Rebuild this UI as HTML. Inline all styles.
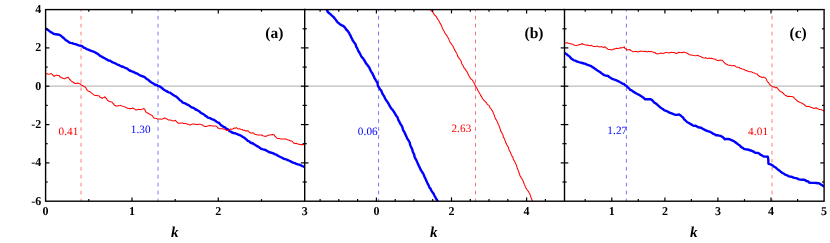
<!DOCTYPE html>
<html><head><meta charset="utf-8">
<style>
html,body{margin:0;padding:0;background:#fff;}
body{width:830px;height:243px;overflow:hidden;font-family:"Liberation Serif",serif;}
svg{display:block;position:absolute;left:0;top:0;}
svg.ov{will-change:transform;}
text{font-family:"Liberation Serif",serif;text-rendering:geometricPrecision;}
.tl{font-weight:bold;font-size:12px;fill:#000;}
.kl{font-weight:bold;font-style:italic;font-size:15px;fill:#000;}
.pl{font-weight:bold;font-size:15.5px;fill:#000;}
.an{font-size:11.2px;letter-spacing:0.1px;}
</style></head><body>
<svg width="830" height="243" viewBox="0 0 830 243">
<rect width="830" height="243" fill="#fff"/>
<defs>
<clipPath id="ca"><rect x="45.6" y="9.6" width="259.1" height="191.6"/></clipPath>
<clipPath id="cb"><rect x="304.7" y="9.6" width="259.8" height="191.6"/></clipPath>
<clipPath id="cc"><rect x="564.5" y="9.6" width="259.6" height="191.6"/></clipPath>
</defs>

<line x1="45.6" y1="86.2" x2="824.1" y2="86.2" stroke="#bdbdbd" stroke-width="1.2"/>
<line x1="81.00" y1="9.6" x2="81.00" y2="201.2" stroke="#ff0000" stroke-opacity="0.52" stroke-width="1" stroke-dasharray="3.7,4.25" stroke-dashoffset="1.75"/>
<line x1="158.00" y1="9.6" x2="158.00" y2="201.2" stroke="#0000ff" stroke-opacity="0.52" stroke-width="1" stroke-dasharray="3.7,4.25" stroke-dashoffset="1.75"/>
<line x1="378.60" y1="9.6" x2="378.60" y2="201.2" stroke="#0000ff" stroke-opacity="0.55" stroke-width="1" stroke-dasharray="3.7,4.25" stroke-dashoffset="1.75"/>
<line x1="475.50" y1="9.6" x2="475.50" y2="201.2" stroke="#ff0000" stroke-opacity="0.55" stroke-width="1" stroke-dasharray="3.7,4.25" stroke-dashoffset="1.75"/>
<line x1="626.40" y1="9.6" x2="626.40" y2="201.2" stroke="#0000ff" stroke-opacity="0.55" stroke-width="1" stroke-dasharray="3.7,4.25" stroke-dashoffset="1.75"/>
<line x1="772.00" y1="9.6" x2="772.00" y2="201.2" stroke="#ff0000" stroke-opacity="0.52" stroke-width="1" stroke-dasharray="3.7,4.25" stroke-dashoffset="1.75"/>
<g fill="none" stroke-linejoin="round" stroke-linecap="butt">
<g clip-path="url(#ca)"><path d="M45.8,28.4 46.8,29.3 48.0,30.1 49.1,30.8 50.3,31.8 51.7,32.6 53.0,33.4 54.4,34.1 56.0,34.3 57.5,34.5 59.2,34.7 60.5,35.4 61.6,36.4 62.7,37.3 63.9,38.2 64.9,39.3 66.1,40.3 67.3,41.1 68.7,42.1 70.4,42.8 72.2,43.2 73.9,43.9 75.3,44.2 76.7,44.5 78.0,45.2 79.4,45.6 80.8,45.7 82.4,46.4 83.7,47.6 85.3,48.2 86.8,49.1 88.3,49.7 89.8,50.3 91.3,50.9 92.8,51.3 94.4,52.0 96.0,52.9 97.5,53.7 98.9,54.7 99.9,55.8 101.3,56.3 102.5,57.2 103.8,57.8 105.1,58.5 106.3,59.2 107.5,59.9 108.8,60.6 110.2,60.8 111.7,61.9 113.4,62.6 115.1,63.2 116.3,64.0 117.6,64.6 118.9,65.0 120.1,65.8 121.5,66.5 123.1,66.8 124.5,67.5 125.9,68.1 127.3,68.6 128.4,69.7 129.6,70.5 131.0,71.0 132.6,71.7 134.3,72.4 135.9,73.3 137.4,73.6 138.6,74.5 139.9,75.3 141.5,75.9 143.2,76.5 144.6,77.1 145.8,78.2 147.2,79.2 148.6,80.1 149.8,81.3 151.1,82.3 152.4,83.0 153.8,83.8 155.1,84.7 156.8,85.0 158.0,86.0 159.8,86.4 161.2,87.4 162.5,88.5 163.8,89.7 165.4,90.5 166.9,91.4 168.4,92.3 170.2,92.7 171.5,93.8 173.0,94.8 174.5,95.7 176.1,96.5 177.4,97.6 178.7,98.8 179.9,100.2 181.4,101.0 182.6,102.5 184.2,103.1 185.8,103.7 187.3,104.6 189.0,105.3 190.3,106.4 191.8,107.4 193.2,107.8 194.5,108.6 195.6,109.5 197.0,110.0 198.2,110.8 199.5,111.5 200.5,112.6 201.8,113.4 203.1,114.0 204.4,114.7 205.3,115.8 206.7,116.4 207.7,117.6 209.4,117.9 210.9,118.6 212.5,119.3 214.1,119.9 215.3,120.7 216.4,121.7 217.6,122.3 219.0,122.9 220.0,124.0 221.0,125.2 222.3,125.9 223.5,126.9 225.0,127.4 226.0,128.5 227.4,129.1 228.6,129.9 229.5,131.2 230.9,131.7 232.0,132.5 233.6,133.0 235.2,133.3 236.7,133.8 238.2,134.6 239.5,135.0 240.9,135.6 242.1,136.4 243.3,137.2 244.6,137.9 245.6,139.0 246.8,139.8 247.8,140.9 249.2,141.4 250.2,142.5 251.6,143.0 253.0,143.5 254.2,144.3 255.7,145.2 257.1,146.2 258.6,146.9 260.0,148.0 261.4,148.9 263.0,149.4 264.6,149.7 266.1,150.4 267.5,151.2 268.9,152.0 270.5,152.5 272.0,152.9 273.4,153.4 274.6,154.1 276.0,154.4 277.4,155.4 278.9,156.2 280.4,157.0 282.0,157.7 283.5,158.6 285.1,159.2 286.8,159.6 288.4,160.4 290.0,161.0 291.5,161.9 293.1,162.6 294.8,163.1 296.4,163.8 298.0,164.4 299.5,164.7 300.8,165.3 302.2,166.0 303.6,166.6 305.0,167.0" stroke="#0000ff" stroke-width="2.4"/><path d="M45.6,73.6 47.0,73.8 48.3,74.2 49.6,74.0 51.3,73.6 52.2,74.4 53.1,75.3 54.0,76.3 55.2,75.7 56.4,75.1 57.7,75.4 59.0,75.4 59.7,76.5 60.6,77.3 61.7,77.7 63.0,78.2 64.4,78.9 65.6,78.3 66.8,77.8 68.2,77.3 68.9,78.2 69.5,79.2 70.4,80.0 71.1,80.9 72.3,81.7 73.6,82.5 74.9,83.5 76.3,83.6 77.7,83.0 79.0,83.4 80.3,83.9 81.2,84.9 82.4,85.4 83.5,86.3 84.8,86.9 86.0,87.9 86.5,89.6 87.6,90.3 88.5,91.3 90.0,91.7 91.0,92.6 91.9,93.4 92.9,94.1 93.9,94.9 95.0,95.6 96.4,95.4 97.7,95.8 99.1,95.8 99.8,97.0 100.9,97.5 102.1,98.3 103.1,97.8 104.2,97.5 104.9,96.7 105.7,98.0 106.8,99.0 107.7,100.6 109.0,101.2 110.4,101.8 111.9,102.1 112.8,103.1 113.7,104.1 114.4,105.3 116.1,106.1 117.3,106.0 118.6,105.8 119.8,105.6 120.8,105.4 121.8,105.9 123.0,106.3 124.1,106.6 125.1,107.1 126.3,107.6 127.6,108.3 129.1,108.6 130.5,108.6 131.8,108.4 132.6,108.1 133.7,108.5 134.7,109.1 136.0,110.1 137.3,109.7 138.7,109.3 140.2,109.8 141.5,109.3 142.9,109.1 143.3,108.6 144.8,109.3 145.3,110.9 146.3,112.5 147.8,113.0 148.9,113.7 150.0,114.4 151.2,114.9 152.1,115.7 153.0,116.7 153.9,117.9 155.1,118.3 156.4,118.4 157.6,119.1 159.0,118.9 160.2,119.1 161.4,119.3 162.6,119.0 163.8,118.3 165.1,118.1 166.3,118.7 167.5,119.3 168.6,120.1 170.0,120.0 171.2,120.3 172.5,120.7 173.7,120.9 175.3,120.3 176.3,121.3 177.3,122.5 178.5,123.2 180.0,123.2 181.3,122.9 182.5,122.9 183.8,123.6 184.8,123.4 186.1,123.6 187.2,124.2 188.6,124.3 190.1,125.1 191.3,124.4 192.5,124.0 193.8,124.0 194.8,124.2 196.1,124.5 197.3,124.6 198.8,124.2 200.1,124.3 201.4,124.7 202.7,125.1 203.8,126.0 204.9,126.4 206.3,126.4 207.5,126.1 208.7,125.7 210.0,125.4 211.2,125.7 212.5,126.1 213.7,126.0 215.0,126.0 216.5,126.3 217.6,127.5 218.8,128.6 220.1,128.7 221.5,128.8 222.8,128.7 224.0,129.2 225.3,129.5 226.4,130.4 227.7,130.4 229.0,130.1 230.1,129.0 231.5,129.3 232.8,129.0 233.9,128.1 235.2,128.2 236.3,127.6 237.7,128.8 238.9,128.9 239.5,128.6 240.7,129.2 242.2,129.5 243.1,130.3 244.4,130.3 245.6,131.0 247.0,130.7 248.3,131.1 249.3,132.1 250.4,133.0 251.8,132.9 253.2,132.8 254.3,133.8 255.4,134.6 256.8,134.7 258.0,135.0 259.2,135.0 260.5,134.9 261.7,135.0 262.8,135.7 264.0,136.1 265.4,136.5 266.6,136.0 267.8,135.6 269.0,134.9 270.3,135.0 271.5,134.7 272.8,134.4 274.2,135.0 274.9,136.2 275.8,137.0 276.6,137.9 277.8,138.6 279.2,138.5 280.5,138.9 281.8,139.0 283.1,139.0 284.4,138.9 285.8,138.9 286.9,139.5 288.1,140.1 289.4,140.2 290.7,141.0 291.9,141.1 292.8,142.0 293.6,143.1 295.0,143.6 296.5,143.3 297.7,144.1 299.0,144.3 300.4,144.6 301.8,144.6 303.3,144.7 304.6,144.0" stroke="#ff0000" stroke-width="1.05"/></g>
<g clip-path="url(#cb)"><path d="M325.9,8.7 327.0,10.0 327.7,11.8 329.0,13.0 330.4,14.1 331.6,15.3 332.8,16.4 334.0,17.5 334.9,18.8 336.0,20.0 336.8,21.3 337.7,22.4 338.9,23.3 339.9,24.2 341.4,25.1 343.0,25.8 344.5,27.0 345.4,28.2 346.2,29.5 347.3,30.5 348.2,31.7 349.1,32.9 349.7,34.4 350.6,35.7 351.1,37.3 352.0,38.6 352.5,40.0 353.3,41.2 354.1,42.4 355.1,43.6 355.8,44.9 356.2,46.7 357.2,48.1 357.8,49.7 358.5,51.3 359.5,52.7 360.3,54.2 361.0,55.8 362.0,57.3 363.1,58.4 363.9,59.7 364.8,61.0 365.4,62.4 366.2,63.7 367.4,64.9 368.3,66.3 369.3,67.5 369.9,69.0 370.6,70.6 371.5,72.1 372.5,73.5 373.1,75.1 374.0,76.6 374.4,78.1 375.3,79.3 376.0,80.6 376.8,81.9 377.6,83.2 377.7,84.8 378.1,86.3 379.2,87.7 380.0,89.2 381.2,90.5 381.8,92.1 382.4,93.6 383.2,94.9 384.1,96.2 384.8,97.7 385.4,99.1 386.4,100.5 387.4,101.9 388.3,103.4 389.2,104.9 389.8,106.2 390.6,107.4 391.3,108.6 392.4,109.6 393.3,110.8 394.1,112.1 394.9,113.4 395.6,114.7 396.4,116.0 397.5,117.2 398.0,118.8 398.6,120.5 399.5,121.9 400.1,123.5 401.1,124.9 402.0,126.4 402.6,127.9 402.9,129.5 403.6,131.0 404.6,132.4 405.1,133.9 405.9,135.4 406.6,136.9 407.1,138.4 408.1,139.8 409.0,141.2 409.8,142.7 410.0,144.3 410.6,145.9 411.3,147.4 412.0,148.8 412.5,150.4 412.9,152.1 413.7,153.5 414.3,155.0 414.5,156.7 415.2,158.2 416.0,159.6 416.7,161.1 417.4,162.6 418.0,164.1 418.7,165.6 419.5,167.1 420.2,168.5 420.8,170.1 421.8,171.4 422.6,172.8 423.5,174.1 424.1,175.7 424.6,177.2 425.5,178.6 426.0,180.1 426.7,181.6 427.4,183.1 428.2,184.6 428.9,186.1 429.5,187.6 430.6,188.8 431.2,190.3 432.1,191.7 433.1,192.9 433.9,194.4 434.5,195.8 435.4,197.2 436.1,198.7 437.0,200.0 438.0,202.0" stroke="#0000ff" stroke-width="2.4"/><path d="M429.9,8.7 430.7,10.2 431.7,11.1 432.7,12.0 433.4,13.0 433.9,14.2 434.7,15.2 435.7,16.0 436.4,16.9 437.1,18.0 437.6,19.1 438.3,20.0 439.0,21.0 439.6,22.2 440.2,23.4 440.9,24.5 441.5,25.8 442.0,27.0 442.3,28.3 443.0,29.3 443.5,30.5 444.3,31.5 444.8,32.7 445.5,33.8 446.3,34.8 447.0,35.8 447.5,37.0 448.3,38.0 448.8,39.1 449.3,40.4 449.8,41.6 450.4,42.9 451.4,43.8 452.1,45.0 452.9,46.0 453.4,47.3 454.0,48.5 454.6,49.7 455.2,50.9 455.9,52.0 456.5,53.3 457.3,54.5 457.5,55.9 458.3,57.1 458.9,58.2 459.8,59.2 460.6,60.3 461.2,61.5 461.5,62.8 462.0,64.0 462.7,65.2 463.5,66.3 463.9,67.6 464.8,68.6 465.7,69.7 466.3,70.9 467.1,71.9 467.7,73.1 468.2,74.4 468.9,75.5 469.5,76.7 470.2,77.9 471.0,79.0 472.1,79.8 472.8,80.8 473.4,82.0 474.1,83.0 474.7,84.2 475.2,85.3 475.6,86.6 476.4,87.5 477.1,88.6 477.6,89.7 478.1,90.8 478.9,91.8 479.2,93.0 480.0,94.0 480.5,95.1 481.2,96.1 481.9,97.1 482.3,98.2 483.0,99.2 483.7,100.2 484.7,101.0 485.6,102.0 486.6,102.8 487.1,104.1 488.1,104.9 489.2,105.6 489.7,106.9 490.3,108.1 491.2,109.0 491.8,110.1 492.5,111.1 493.1,112.2 493.5,113.4 493.9,114.5 494.5,115.6 494.7,116.9 495.2,118.0 495.7,119.1 496.5,120.1 497.0,121.3 497.5,122.4 498.0,123.5 498.4,124.7 499.0,125.7 499.5,126.9 499.8,128.1 500.3,129.4 500.5,130.8 501.5,131.9 502.0,133.2 502.7,134.4 503.2,135.7 503.3,137.1 504.1,138.1 504.6,139.3 505.0,140.5 505.5,141.6 505.8,142.8 506.6,143.8 506.9,145.0 507.6,146.1 508.3,147.2 508.6,148.5 509.0,149.7 509.6,150.8 510.2,151.9 510.7,153.0 511.1,154.2 511.6,155.3 512.2,156.4 513.0,157.4 513.2,158.7 513.6,159.8 514.3,160.9 514.9,161.9 515.4,163.1 515.9,164.2 516.6,165.2 516.7,166.5 517.1,167.7 517.6,168.8 518.0,170.0 518.5,171.1 518.8,172.3 519.3,173.5 519.7,174.6 520.0,175.8 520.7,176.9 521.3,177.9 522.0,179.0 522.6,180.1 523.2,181.2 523.6,182.3 524.0,183.5 524.4,184.7 525.1,185.7 525.4,186.9 526.0,188.0 526.7,189.2 527.4,190.3 528.4,191.3 528.9,192.5 529.8,193.6 530.1,194.9 530.7,196.2 531.0,197.6 531.6,198.9 532.1,200.1 532.5,201.2 533.4,202.0" stroke="#ff0000" stroke-width="1.05"/></g>
<g clip-path="url(#cc)"><path d="M564.3,52.7 565.5,53.5 566.8,54.2 567.7,55.3 569.0,56.0 570.0,57.0 570.9,58.2 572.3,59.2 573.9,60.3 575.6,60.7 577.2,61.7 579.0,62.2 580.6,62.6 582.3,63.0 584.0,63.5 585.5,63.9 586.9,64.7 588.4,65.1 589.8,65.7 591.3,66.2 592.4,67.1 593.7,67.8 594.9,68.7 596.2,69.6 597.4,70.5 598.7,71.3 599.9,72.1 601.3,73.1 602.6,74.1 604.0,75.1 605.3,75.4 606.6,75.8 608.0,75.9 609.2,77.0 610.5,77.7 611.7,78.6 613.0,79.2 614.4,79.6 615.9,80.1 617.1,80.7 618.5,81.3 619.8,82.0 621.2,82.7 622.4,83.6 624.0,84.0 625.1,85.2 626.5,85.9 627.6,87.3 629.1,88.4 630.1,89.8 631.7,90.4 633.1,91.5 634.6,92.4 636.0,93.3 637.3,94.0 638.6,94.6 639.8,95.2 641.0,96.1 642.3,96.9 643.6,97.8 644.9,99.2 646.6,99.3 648.3,99.3 650.2,99.1 651.8,99.9 653.0,101.1 654.1,102.4 655.5,103.3 656.8,104.2 658.0,105.3 659.2,106.4 660.3,107.4 661.5,108.3 662.8,109.0 664.0,110.0 665.3,110.6 666.7,111.1 668.0,111.8 669.1,112.5 670.8,113.1 672.4,113.7 674.0,114.4 675.7,114.9 677.3,114.9 679.1,114.4 680.6,115.4 681.9,116.6 683.3,117.7 683.9,119.1 685.0,120.0 686.0,121.0 687.0,122.0 688.4,122.7 689.8,123.6 691.2,124.4 692.6,125.2 694.0,125.9 695.6,125.8 696.9,126.4 698.2,127.3 699.6,127.5 701.1,127.8 702.3,128.6 703.6,129.2 704.8,129.9 706.0,130.5 707.7,131.1 709.3,131.5 710.8,132.3 712.1,133.1 713.4,133.9 714.8,134.4 716.0,135.3 717.5,135.3 719.0,135.6 720.5,135.9 721.6,136.4 722.8,137.2 723.8,138.2 725.0,139.4 726.7,138.9 728.3,139.0 729.8,139.4 731.5,140.1 733.2,140.8 734.7,141.7 736.0,142.7 737.3,143.7 738.5,144.7 739.9,145.5 741.0,146.9 742.5,147.8 743.9,148.8 745.6,149.4 747.5,149.5 749.2,150.0 750.8,150.5 752.5,151.1 754.0,151.9 755.3,152.7 756.6,152.9 757.8,152.9 759.2,153.6 760.3,154.6 761.7,155.3 763.0,156.1 764.3,156.6 765.8,156.6 767.2,156.8 767.7,156.6 768.2,158.3 768.3,160.1 768.4,161.8 768.4,163.6 769.6,164.2 771.0,164.5 772.3,165.2 773.4,166.2 774.7,167.0 776.0,167.8 777.1,168.8 778.3,169.8 779.5,170.7 780.7,171.7 781.9,172.6 783.1,173.3 784.4,174.0 785.5,174.9 786.9,175.2 788.3,176.1 789.8,176.5 791.4,176.7 792.9,177.3 794.4,177.9 796.0,178.1 797.5,178.6 799.0,179.3 800.4,179.6 802.0,179.8 803.5,179.8 805.0,180.0 806.3,181.0 807.9,181.3 809.2,182.5 811.0,182.9 812.7,182.9 814.5,182.9 816.2,183.0 817.9,183.2 819.4,183.4 820.5,184.3 821.7,184.8 822.9,185.8 824.4,186.4" stroke="#0000ff" stroke-width="2.4"/><path d="M564.4,42.8 565.8,42.9 567.2,42.7 568.6,43.3 570.0,43.6 571.2,43.9 572.4,44.1 573.5,44.8 574.6,45.2 576.0,45.6 577.2,45.3 578.4,44.9 579.6,44.5 580.8,44.4 582.1,43.5 583.2,44.5 584.4,44.7 585.6,44.8 586.8,45.2 588.0,45.1 589.2,45.4 590.3,45.8 591.6,45.3 592.7,46.2 594.0,46.4 595.2,46.6 596.4,46.2 597.6,46.1 598.8,46.9 600.0,46.7 601.3,46.7 602.5,47.0 603.7,47.5 605.2,46.7 605.9,47.8 606.9,48.4 607.7,49.2 609.0,49.4 610.3,49.4 611.6,49.9 612.8,49.6 614.0,49.1 615.2,48.7 616.5,48.3 617.8,48.4 619.0,48.2 620.2,47.8 621.5,48.0 622.7,47.4 624.4,46.9 624.8,48.4 626.0,48.8 627.0,50.0 628.5,49.8 629.8,49.6 630.8,50.5 632.0,51.1 633.0,51.7 634.2,51.6 635.5,51.4 636.8,51.6 638.0,52.1 639.2,51.4 640.4,51.0 641.6,51.3 642.8,51.3 643.9,51.6 645.2,51.3 646.4,51.7 647.6,51.7 648.9,51.2 650.0,51.7 651.3,51.4 652.5,52.0 653.7,52.2 654.9,52.5 656.0,53.5 657.3,53.9 658.5,53.7 659.6,53.5 660.8,53.0 662.0,53.2 663.2,53.4 664.4,53.0 665.6,52.4 666.8,52.6 668.0,52.7 669.2,53.0 670.4,52.6 671.6,52.3 672.8,52.5 674.0,52.5 675.2,52.9 676.4,53.4 677.6,53.0 678.8,52.2 680.0,52.5 681.2,52.5 682.4,52.8 683.7,52.0 684.9,52.4 686.2,52.8 687.6,53.4 688.8,54.2 690.0,54.9 691.3,54.9 692.7,55.3 694.0,55.6 695.4,55.7 696.7,55.5 697.6,55.2 698.6,55.8 699.7,56.3 700.9,56.6 701.9,57.3 703.1,57.8 704.3,57.9 705.7,57.8 706.8,58.3 708.0,58.4 709.3,58.1 710.5,58.4 711.7,58.2 712.9,58.7 714.1,58.9 715.3,59.3 716.4,60.0 717.5,60.6 718.7,60.7 720.1,60.1 721.1,60.3 722.4,60.3 723.3,61.5 724.2,62.7 725.3,63.5 726.5,64.3 727.9,65.0 729.1,65.3 730.3,65.3 731.5,65.7 732.7,65.7 734.1,65.5 735.2,66.0 736.2,67.0 737.5,67.3 738.9,67.2 739.9,68.2 741.1,68.6 742.3,69.1 743.6,69.3 744.7,69.8 745.8,70.7 747.1,70.7 748.2,71.3 749.4,71.7 750.8,71.7 752.0,72.1 753.1,72.8 754.5,72.9 755.6,73.8 757.1,73.9 757.8,75.0 758.7,75.8 759.7,76.5 761.0,76.9 762.1,77.4 763.7,77.1 765.5,78.0 766.2,79.0 766.7,80.1 767.2,81.3 768.0,82.2 768.9,83.0 769.4,84.2 770.3,85.0 771.1,85.8 772.0,86.4 773.2,87.0 774.5,86.9 775.6,87.8 776.9,87.5 777.8,88.5 778.5,89.7 779.4,90.7 780.4,91.4 781.5,91.9 782.5,92.5 783.4,93.3 784.1,94.4 785.2,95.2 786.4,95.8 787.6,96.5 789.1,96.2 790.4,96.4 791.8,96.6 793.6,96.9 794.3,98.2 795.4,99.2 796.4,100.0 797.3,101.1 798.7,101.7 799.9,102.4 801.2,102.7 802.3,103.6 803.5,104.1 804.6,105.0 805.7,106.0 806.9,106.4 808.2,106.4 809.5,106.4 810.6,107.3 811.8,107.4 813.0,108.0 814.3,108.5 816.1,107.7 817.1,108.5 818.3,108.9 819.5,109.4 820.8,109.6 822.0,110.0 823.4,110.4 824.4,111.4" stroke="#ff0000" stroke-width="1.05"/></g>
</g>
<g stroke="#000" stroke-width="1.4" fill="none">
<rect x="45.6" y="9.6" width="778.5" height="191.6"/>
<line x1="304.7" y1="8.8" x2="304.7" y2="201.2"/>
<line x1="564.5" y1="8.8" x2="564.5" y2="201.2"/>
</g>
<g stroke="#000" stroke-width="1.2">
<line x1="45.6" y1="182.0" x2="47.7" y2="182.0"/>
<line x1="302.6" y1="182.0" x2="306.8" y2="182.0"/>
<line x1="562.4" y1="182.0" x2="566.6" y2="182.0"/>
<line x1="822.0" y1="182.0" x2="824.1" y2="182.0"/>
<line x1="45.6" y1="162.9" x2="49.4" y2="162.9"/>
<line x1="300.9" y1="162.9" x2="308.5" y2="162.9"/>
<line x1="560.7" y1="162.9" x2="568.3" y2="162.9"/>
<line x1="820.3" y1="162.9" x2="824.1" y2="162.9"/>
<line x1="45.6" y1="143.7" x2="47.7" y2="143.7"/>
<line x1="302.6" y1="143.7" x2="306.8" y2="143.7"/>
<line x1="562.4" y1="143.7" x2="566.6" y2="143.7"/>
<line x1="822.0" y1="143.7" x2="824.1" y2="143.7"/>
<line x1="45.6" y1="124.6" x2="49.4" y2="124.6"/>
<line x1="300.9" y1="124.6" x2="308.5" y2="124.6"/>
<line x1="560.7" y1="124.6" x2="568.3" y2="124.6"/>
<line x1="820.3" y1="124.6" x2="824.1" y2="124.6"/>
<line x1="45.6" y1="105.4" x2="47.7" y2="105.4"/>
<line x1="302.6" y1="105.4" x2="306.8" y2="105.4"/>
<line x1="562.4" y1="105.4" x2="566.6" y2="105.4"/>
<line x1="822.0" y1="105.4" x2="824.1" y2="105.4"/>
<line x1="45.6" y1="86.2" x2="49.4" y2="86.2"/>
<line x1="300.9" y1="86.2" x2="308.5" y2="86.2"/>
<line x1="560.7" y1="86.2" x2="568.3" y2="86.2"/>
<line x1="820.3" y1="86.2" x2="824.1" y2="86.2"/>
<line x1="45.6" y1="67.1" x2="47.7" y2="67.1"/>
<line x1="302.6" y1="67.1" x2="306.8" y2="67.1"/>
<line x1="562.4" y1="67.1" x2="566.6" y2="67.1"/>
<line x1="822.0" y1="67.1" x2="824.1" y2="67.1"/>
<line x1="45.6" y1="47.9" x2="49.4" y2="47.9"/>
<line x1="300.9" y1="47.9" x2="308.5" y2="47.9"/>
<line x1="560.7" y1="47.9" x2="568.3" y2="47.9"/>
<line x1="820.3" y1="47.9" x2="824.1" y2="47.9"/>
<line x1="45.6" y1="28.8" x2="47.7" y2="28.8"/>
<line x1="302.6" y1="28.8" x2="306.8" y2="28.8"/>
<line x1="562.4" y1="28.8" x2="566.6" y2="28.8"/>
<line x1="822.0" y1="28.8" x2="824.1" y2="28.8"/>
<line x1="88.8" y1="201.2" x2="88.8" y2="199.1"/>
<line x1="88.8" y1="9.6" x2="88.8" y2="11.7"/>
<line x1="132.0" y1="201.2" x2="132.0" y2="197.4"/>
<line x1="132.0" y1="9.6" x2="132.0" y2="13.4"/>
<line x1="175.2" y1="201.2" x2="175.2" y2="199.1"/>
<line x1="175.2" y1="9.6" x2="175.2" y2="11.7"/>
<line x1="218.3" y1="201.2" x2="218.3" y2="197.4"/>
<line x1="218.3" y1="9.6" x2="218.3" y2="13.4"/>
<line x1="261.5" y1="201.2" x2="261.5" y2="199.1"/>
<line x1="261.5" y1="9.6" x2="261.5" y2="11.7"/>
<line x1="320.1" y1="201.2" x2="320.1" y2="199.1"/>
<line x1="320.1" y1="9.6" x2="320.1" y2="11.7"/>
<line x1="338.8" y1="201.2" x2="338.8" y2="199.1"/>
<line x1="338.8" y1="9.6" x2="338.8" y2="11.7"/>
<line x1="357.6" y1="201.2" x2="357.6" y2="199.1"/>
<line x1="357.6" y1="9.6" x2="357.6" y2="11.7"/>
<line x1="376.4" y1="201.2" x2="376.4" y2="197.4"/>
<line x1="376.4" y1="9.6" x2="376.4" y2="13.4"/>
<line x1="395.2" y1="201.2" x2="395.2" y2="199.1"/>
<line x1="395.2" y1="9.6" x2="395.2" y2="11.7"/>
<line x1="413.9" y1="201.2" x2="413.9" y2="199.1"/>
<line x1="413.9" y1="9.6" x2="413.9" y2="11.7"/>
<line x1="432.7" y1="201.2" x2="432.7" y2="199.1"/>
<line x1="432.7" y1="9.6" x2="432.7" y2="11.7"/>
<line x1="451.5" y1="201.2" x2="451.5" y2="197.4"/>
<line x1="451.5" y1="9.6" x2="451.5" y2="13.4"/>
<line x1="470.3" y1="201.2" x2="470.3" y2="199.1"/>
<line x1="470.3" y1="9.6" x2="470.3" y2="11.7"/>
<line x1="489.0" y1="201.2" x2="489.0" y2="199.1"/>
<line x1="489.0" y1="9.6" x2="489.0" y2="11.7"/>
<line x1="507.8" y1="201.2" x2="507.8" y2="199.1"/>
<line x1="507.8" y1="9.6" x2="507.8" y2="11.7"/>
<line x1="526.6" y1="201.2" x2="526.6" y2="197.4"/>
<line x1="526.6" y1="9.6" x2="526.6" y2="13.4"/>
<line x1="545.4" y1="201.2" x2="545.4" y2="199.1"/>
<line x1="545.4" y1="9.6" x2="545.4" y2="11.7"/>
<line x1="585.2" y1="201.2" x2="585.2" y2="199.1"/>
<line x1="585.2" y1="9.6" x2="585.2" y2="11.7"/>
<line x1="611.8" y1="201.2" x2="611.8" y2="197.4"/>
<line x1="611.8" y1="9.6" x2="611.8" y2="13.4"/>
<line x1="638.3" y1="201.2" x2="638.3" y2="199.1"/>
<line x1="638.3" y1="9.6" x2="638.3" y2="11.7"/>
<line x1="664.9" y1="201.2" x2="664.9" y2="197.4"/>
<line x1="664.9" y1="9.6" x2="664.9" y2="13.4"/>
<line x1="691.4" y1="201.2" x2="691.4" y2="199.1"/>
<line x1="691.4" y1="9.6" x2="691.4" y2="11.7"/>
<line x1="717.9" y1="201.2" x2="717.9" y2="197.4"/>
<line x1="717.9" y1="9.6" x2="717.9" y2="13.4"/>
<line x1="744.5" y1="201.2" x2="744.5" y2="199.1"/>
<line x1="744.5" y1="9.6" x2="744.5" y2="11.7"/>
<line x1="771.0" y1="201.2" x2="771.0" y2="197.4"/>
<line x1="771.0" y1="9.6" x2="771.0" y2="13.4"/>
<line x1="797.6" y1="201.2" x2="797.6" y2="199.1"/>
<line x1="797.6" y1="9.6" x2="797.6" y2="11.7"/>
</g>
</svg>
<svg class="ov" width="830" height="243" viewBox="0 0 830 243">
<text class="tl" x="41.3" y="204.7" text-anchor="end">-6</text>
<text class="tl" x="41.3" y="166.4" text-anchor="end">-4</text>
<text class="tl" x="41.3" y="128.1" text-anchor="end">-2</text>
<text class="tl" x="41.3" y="89.7" text-anchor="end">0</text>
<text class="tl" x="41.3" y="51.4" text-anchor="end">2</text>
<text class="tl" x="41.3" y="13.1" text-anchor="end">4</text>
<text class="tl" x="45.6" y="214.7" text-anchor="middle">0</text>
<text class="tl" x="132.0" y="214.7" text-anchor="middle">1</text>
<text class="tl" x="218.3" y="214.7" text-anchor="middle">2</text>
<text class="tl" x="304.7" y="214.7" text-anchor="middle">3</text>
<text class="tl" x="376.4" y="214.7" text-anchor="middle">0</text>
<text class="tl" x="451.5" y="214.7" text-anchor="middle">2</text>
<text class="tl" x="526.6" y="214.7" text-anchor="middle">4</text>
<text class="tl" x="611.8" y="214.7" text-anchor="middle">1</text>
<text class="tl" x="664.9" y="214.7" text-anchor="middle">2</text>
<text class="tl" x="717.9" y="214.7" text-anchor="middle">3</text>
<text class="tl" x="771.0" y="214.7" text-anchor="middle">4</text>
<text class="tl" x="824.1" y="214.7" text-anchor="middle">5</text>
<text class="kl" x="174.8" y="236.5" text-anchor="middle">k</text>
<text class="kl" x="433.8" y="236.5" text-anchor="middle">k</text>
<text class="kl" x="693.8" y="236.5" text-anchor="middle">k</text>
<text class="pl" x="274.3" y="37.8" text-anchor="middle">(a)</text>
<text class="pl" x="534.0" y="37.8" text-anchor="middle">(b)</text>
<text class="pl" x="798.1" y="37.8" text-anchor="middle">(c)</text>
<text class="an" x="68.5" y="134.5" text-anchor="middle" fill="#ff0000">0.41</text>
<text class="an" x="140.7" y="133.2" text-anchor="middle" fill="#0000ff">1.30</text>
<text class="an" x="367.8" y="135.3" text-anchor="middle" fill="#0000ff">0.06</text>
<text class="an" x="461.4" y="132.2" text-anchor="middle" fill="#ff0000">2.63</text>
<text class="an" x="617.3" y="134.2" text-anchor="middle" fill="#0000ff">1.27</text>
<text class="an" x="758.1" y="134.7" text-anchor="middle" fill="#ff0000">4.01</text>
</svg></body></html>
